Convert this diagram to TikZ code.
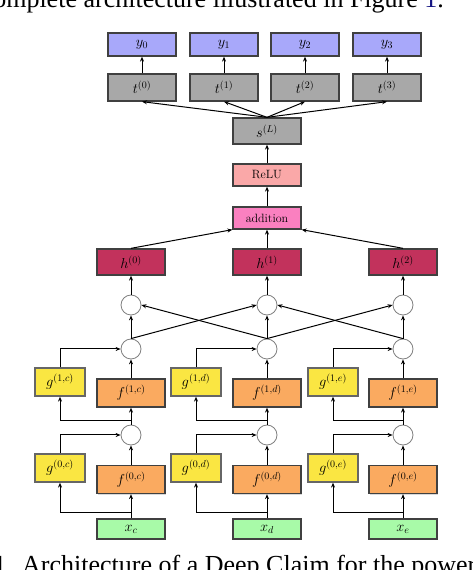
\documentclass[tikz,border=0pt]{standalone}
\usepackage{fontspec}
\newfontfamily\capfont{Liberation Serif}
\usetikzlibrary{arrows.meta,shadows}
\definecolor{ycol}{RGB}{168,168,250}
\definecolor{tcol}{RGB}{168,168,168}
\definecolor{relucol}{RGB}{250,168,168}
\definecolor{addcol}{RGB}{250,128,192}
\definecolor{hcol}{RGB}{194,50,92}
\definecolor{gcol}{RGB}{250,230,66}
\definecolor{fcol}{RGB}{250,170,96}
\definecolor{xcol}{RGB}{168,250,168}
\definecolor{lien}{RGB}{20,20,130}
\begin{document}
\begin{tikzpicture}[x=1pt,y=1pt,
    boite/.style={draw=black!75, line width=1.3pt, minimum width=68pt, minimum height=26pt,
      inner sep=0pt, font=\fontsize{14.5}{16}\selectfont,
      drop shadow={shadow xshift=1pt, shadow yshift=-1.2pt, opacity=0.3}},
    mot/.style={font=\fontsize{12}{14}\selectfont},
    gboite/.style={boite, draw=black!60, minimum width=50pt, minimum height=28pt, fill=gcol},
    fboite/.style={boite, minimum height=28pt, fill=fcol},
    rond/.style={circle, draw=black!50, line width=0.8pt, fill=white, minimum size=20pt, inner sep=0pt},
    fleche/.style={-{Stealth[length=5pt,width=4pt]}, line width=1pt},
    legende/.style={inner sep=0pt, font={\fontsize{26}{30}\selectfont\capfont}}]
  \useasboundingbox (0,0) rectangle (472,570);
  \clip (0,0) rectangle (472,570);
  % Texte autour de la figure
  \node[legende, anchor=base east] (haut) at (444,562) {complete architecture illustrated in Figure~\textcolor{lien}{1}.};
  \node[legende, anchor=base east] (fig) at (13,-3) {Fig.~1.};
  \node[legende, anchor=base west] (bas) at (22,-3) {Architecture of a Deep Claim for the power};
  % Sorties
  \node[boite, fill=ycol, minimum height=23pt] (y0) at (142,525.5) {$y_0$};
  \node[boite, fill=ycol, minimum height=23pt] (y1) at (224,525.5) {$y_1$};
  \node[boite, fill=ycol, minimum height=23pt] (y2) at (305,525.5) {$y_2$};
  \node[boite, fill=ycol, minimum height=23pt] (y3) at (387,525.5) {$y_3$};
  \node[boite, fill=tcol, minimum height=27pt] (t0) at (142,482.5) {$t^{(0)}$};
  \node[boite, fill=tcol, minimum height=27pt] (t1) at (224,482.5) {$t^{(1)}$};
  \node[boite, fill=tcol, minimum height=27pt] (t2) at (305,482.5) {$t^{(2)}$};
  \node[boite, fill=tcol, minimum height=27pt] (t3) at (387,482.5) {$t^{(3)}$};
  \node[boite, fill=tcol] (sL) at (267,439) {$s^{(L)}$};
  \node[boite, mot, fill=relucol, minimum height=22pt] (relu) at (267,395) {ReLU};
  \node[boite, mot, fill=addcol, minimum height=22pt] (addi) at (267,352) {addition};
  % Couches h
  \node[boite, fill=hcol] (h0) at (131,308) {$h^{(0)}$};
  \node[boite, fill=hcol] (h1) at (267,308) {$h^{(1)}$};
  \node[boite, fill=hcol] (h2) at (403,308) {$h^{(2)}$};
  \node[rond] (mc) at (131,265) {};
  \node[rond] (md) at (267,265) {};
  \node[rond] (me) at (403,265) {};
  \node[rond] (c1c) at (131,221) {};
  \node[rond] (c1d) at (267,221) {};
  \node[rond] (c1e) at (403,221) {};
  % Couche 1
  \node[gboite] (g1c) at (60,188) {$g^{(1,c)}$};
  \node[gboite] (g1d) at (196,188) {$g^{(1,d)}$};
  \node[gboite] (g1e) at (333,188) {$g^{(1,e)}$};
  \node[fboite] (f1c) at (131,177) {$f^{(1,c)}$};
  \node[fboite] (f1d) at (267,177) {$f^{(1,d)}$};
  \node[fboite] (f1e) at (403,177) {$f^{(1,e)}$};
  \node[rond] (c0c) at (131,135) {};
  \node[rond] (c0d) at (267,135) {};
  \node[rond] (c0e) at (403,135) {};
  % Couche 0
  \node[gboite] (g0c) at (60,102) {$g^{(0,c)}$};
  \node[gboite] (g0d) at (196,102) {$g^{(0,d)}$};
  \node[gboite] (g0e) at (333,102) {$g^{(0,e)}$};
  \node[fboite] (f0c) at (131,90.5) {$f^{(0,c)}$};
  \node[fboite] (f0d) at (267,90.5) {$f^{(0,d)}$};
  \node[fboite] (f0e) at (403,90.5) {$f^{(0,e)}$};
  % Entrees
  \node[boite, fill=xcol, minimum height=20pt] (xc) at (131,41) {$x_c$};
  \node[boite, fill=xcol, minimum height=20pt] (xd) at (267,41) {$x_d$};
  \node[boite, fill=xcol, minimum height=20pt] (xe) at (403,41) {$x_e$};
  \coordinate (b0c) at (131,57);
  \coordinate (b0d) at (267,57);
  \coordinate (b0e) at (403,57);
  \coordinate (b1c) at (131,149);
  \coordinate (b1d) at (267,149);
  \coordinate (b1e) at (403,149);
  % Fleches du bas
  \draw[fleche] (xc) -- (f0c);
  \draw[fleche] (xd) -- (f0d);
  \draw[fleche] (xe) -- (f0e);
  \draw[fleche] (b0c) -| (g0c);
  \draw[fleche] (b0d) -| (g0d);
  \draw[fleche] (b0e) -| (g0e);
  \draw[fleche] (f0c) -- (c0c);
  \draw[fleche] (f0d) -- (c0d);
  \draw[fleche] (f0e) -- (c0e);
  \draw[fleche] (g0c) |- (c0c);
  \draw[fleche] (g0d) |- (c0d);
  \draw[fleche] (g0e) |- (c0e);
  \draw[fleche] (c0c) -- (f1c);
  \draw[fleche] (c0d) -- (f1d);
  \draw[fleche] (c0e) -- (f1e);
  \draw[fleche] (b1c) -| (g1c);
  \draw[fleche] (b1d) -| (g1d);
  \draw[fleche] (b1e) -| (g1e);
  \draw[fleche] (f1c) -- (c1c);
  \draw[fleche] (f1d) -- (c1d);
  \draw[fleche] (f1e) -- (c1e);
  \draw[fleche] (g1c) |- (c1c);
  \draw[fleche] (g1d) |- (c1d);
  \draw[fleche] (g1e) |- (c1e);
  % Melange
  \draw[fleche] (c1c) -- (mc);
  \draw[fleche] (c1d) -- (md);
  \draw[fleche] (c1e) -- (me);
  \draw[fleche] (c1c.north) -- (md.west);
  \draw[fleche] (c1d.north) -- (mc.east);
  \draw[fleche] (c1d.north) -- (me.west);
  \draw[fleche] (c1e.north) -- (md.east);
  \draw[fleche] (mc) -- (h0);
  \draw[fleche] (md) -- (h1);
  \draw[fleche] (me) -- (h2);
  % Fleches du haut
  \draw[fleche] (h0.north) -- (addi.south west);
  \draw[fleche] (h1) -- (addi);
  \draw[fleche] (h2.north) -- (addi.south east);
  \draw[fleche] (addi) -- (relu);
  \draw[fleche] (relu) -- (sL);
  \draw[fleche] (sL.north) -- (t0.south);
  \draw[fleche] (sL.north) -- (t1.south);
  \draw[fleche] (sL.north) -- (t2.south);
  \draw[fleche] (sL.north) -- (t3.south);
  \draw[fleche] (t0) -- (y0);
  \draw[fleche] (t1) -- (y1);
  \draw[fleche] (t2) -- (y2);
  \draw[fleche] (t3) -- (y3);
\end{tikzpicture}
\end{document}
